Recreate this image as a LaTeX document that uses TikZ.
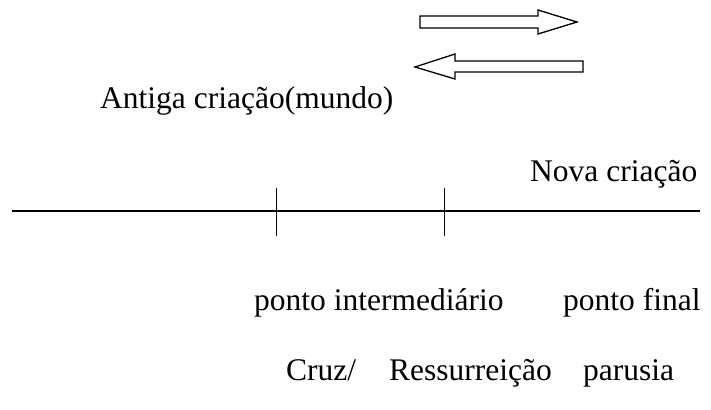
\documentclass[tikz,border=0pt]{standalone}
\usepackage{fontspec}
\setmainfont{Liberation Serif}
\begin{document}
\begin{tikzpicture}[x=1pt,y=-1pt,
  lbl/.style={anchor=base west,inner sep=0pt,font=\fontsize{31.5}{36}\selectfont},
  fatarrow/.style={draw=black,line width=1.3pt,fill=white,line join=miter},
  axis/.style={line width=1.4pt},
  tick/.style={line width=1pt}]
\useasboundingbox (0,0) rectangle (711,409);
% block arrows
\draw[fatarrow] (420,16) -- (538,16) -- (538,10) -- (577,22) -- (538,34) -- (538,28) -- (420,28) -- cycle;
\draw[fatarrow] (583,61) -- (455,61) -- (455,54) -- (415,67) -- (455,79) -- (455,72) -- (583,72) -- cycle;
% texts
\node[lbl] (antiga) at (100,108) {Antiga criação(mundo)};
\node[lbl] (nova) at (530,181) {Nova criação};
\node[lbl] (inter) at (254,310) {ponto intermediário};
\node[lbl] (final) at (563,310) {ponto final};
\node[lbl] (cruz) at (286,380) {Cruz/};
\node[lbl] (ress) at (389,380) {Ressurreição};
\node[lbl] (paru) at (583,380) {parusia};
% timeline
\coordinate (L) at (12,211);
\coordinate (R) at (700,211);
\draw[axis] (L) -- (R);
\coordinate (t1a) at (276,188); \coordinate (t1b) at (276,236);
\coordinate (t2a) at (444,188); \coordinate (t2b) at (444,236);
\draw[tick] (t1a) -- (t1b);
\draw[tick] (t2a) -- (t2b);
\end{tikzpicture}
\end{document}
